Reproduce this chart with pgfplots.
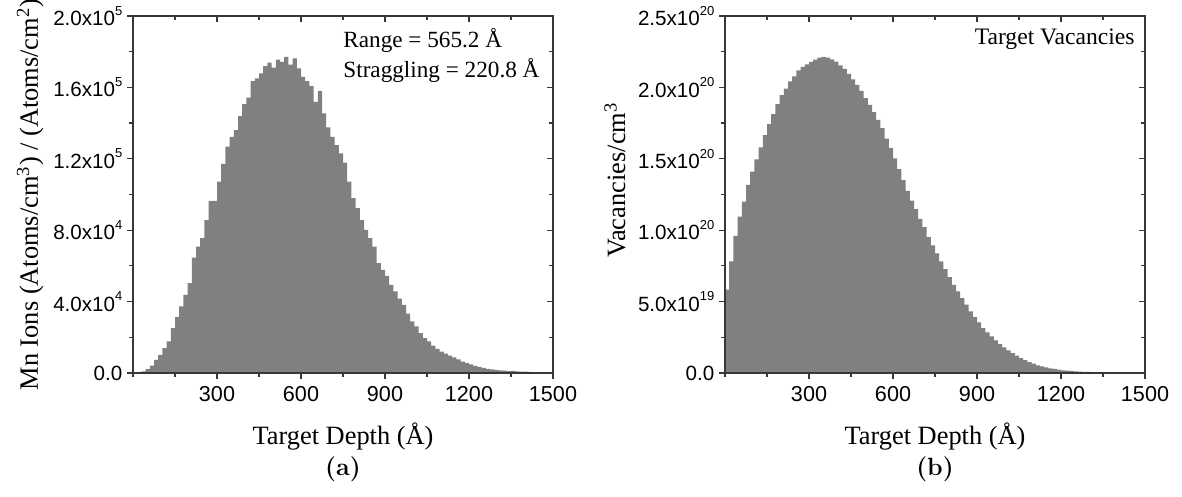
\documentclass[border=0pt]{standalone}
\usepackage{fontspec}
\usepackage{pgfplots}
\pgfplotsset{compat=1.18}
\newfontfamily\tnr{Liberation Serif}
\newfontfamily\arial{Liberation Sans}
\definecolor{barfill}{RGB}{128,128,128}
\definecolor{axiscol}{RGB}{55,55,55}
\newcommand\sci[2]{#1x10\raisebox{0.95ex}{\fontsize{6.5}{6.5}\selectfont #2}}

\pgfplotstableread{
x y
0 200
15 400
30 900
45 2200
60 4100
75 7400
90 10200
105 14000
120 17700
135 25200
150 31300
165 37300
180 43800
195 50300
210 64700
225 70800
240 75500
255 85700
270 96400
285 96400
300 107200
315 117100
330 126800
345 132300
360 136100
375 143900
390 150600
405 154300
420 163500
435 165000
450 167800
465 171900
480 173900
495 171100
510 175600
525 174300
540 177100
555 172800
570 176200
585 170600
600 165900
615 163500
630 160700
645 151900
660 158100
675 145400
690 137600
705 132300
720 127700
735 123000
750 117800
765 107200
780 97900
795 92300
810 85700
825 80200
840 75500
855 70800
870 61500
885 57800
900 54400
915 49400
930 45700
945 41600
960 38200
975 33200
990 28900
1005 26100
1020 22400
1035 19600
1050 17700
1065 15300
1080 13500
1095 12000
1110 10800
1125 9700
1140 8700
1155 7600
1170 6400
1185 5500
1200 4800
1215 4000
1230 3400
1245 2800
1260 2300
1275 2000
1290 1700
1305 1500
1320 1300
1335 1100
1350 1200
1365 900
1380 800
1395 700
1410 600
1425 500
1440 450
1455 350
1470 300
1485 250
1500 250
}\ionsdata

\pgfplotstableread{
x y
0 5.83e19
15 7.81e19
30 9.60e19
45 1.095e20
60 1.200e20
75 1.317e20
90 1.410e20
105 1.496e20
120 1.580e20
135 1.666e20
150 1.743e20
165 1.813e20
180 1.883e20
195 1.946e20
210 1.992e20
225 2.043e20
240 2.078e20
255 2.120e20
270 2.144e20
285 2.162e20
300 2.179e20
315 2.195e20
330 2.209e20
345 2.214e20
360 2.209e20
375 2.197e20
390 2.180e20
405 2.155e20
420 2.130e20
435 2.095e20
450 2.056e20
465 2.018e20
480 1.975e20
495 1.925e20
510 1.877e20
525 1.826e20
540 1.772e20
555 1.714e20
570 1.642e20
585 1.576e20
600 1.503e20
615 1.427e20
630 1.350e20
645 1.276e20
660 1.207e20
675 1.148e20
690 1.079e20
705 1.021e20
720 9.52e19
735 8.94e19
750 8.37e19
765 7.81e19
780 7.27e19
795 6.71e19
810 6.17e19
825 5.71e19
840 5.24e19
855 4.78e19
870 4.31e19
885 3.91e19
900 3.54e19
915 3.15e19
930 2.84e19
945 2.56e19
960 2.28e19
975 2.03e19
990 1.79e19
1005 1.58e19
1020 1.40e19
1035 1.21e19
1050 1.05e19
1065 9.1e18
1080 7.7e18
1095 6.5e18
1110 5.4e18
1125 4.7e18
1140 4.0e18
1155 3.3e18
1170 2.8e18
1185 2.3e18
1200 1.9e18
1215 1.6e18
1230 1.4e18
1245 1.2e18
1260 9e17
1275 8e17
1290 7e17
1305 6e17
1320 5e17
1335 4e17
1350 3.5e17
1365 3e17
1380 2.5e17
1395 2e17
1410 1.7e17
1425 1.4e17
1440 1.2e17
1455 1e17
1470 8e16
1485 6e16
1500 6e16
}\vacdata

\tikzset{annot/.style={inner sep=0pt, font=\tnr\fontsize{11.6}{12}\selectfont}}

\pgfplotsset{
  frame/.style={
    scale only axis, width=210pt, height=178.5pt,
    anchor=south west,
    xmin=0, xmax=1500,
    scaled x ticks=false, scaled y ticks=false,
    axis line style={axiscol, line width=0.8pt},
    major tick length=3pt, minor tick length=1.8pt,
    every tick/.style={axiscol, line width=0.6pt},
    xtick={300,600,900,1200,1500},
    minor xtick={0,150,...,1500},
  },
  ticksout/.style={
    tick align=outside, xtick pos=left, ytick pos=left,
    axis on top,
    xticklabels={300,600,900,1200,1500},
    xticklabel style={font=\arial\fontsize{10.8}{11}\selectfont, text=black},
    yticklabel style={font=\arial\fontsize{10.3}{11}\selectfont, text=black, xshift=1.2pt},
    xlabel style={font=\tnr\fontsize{13.2}{14}\selectfont, at={(axis description cs:0.5,-0.20)}, anchor=base},
    ylabel style={font=\tnr\fontsize{13.2}{14}\selectfont, anchor=center},
    xlabel={Target Depth (Å)},
  },
  ticksin/.style={
    tick align=inside, xtick pos=right, ytick pos=right,
    xticklabels={}, yticklabels={},
  },
}

\begin{document}
\begin{tikzpicture}
\useasboundingbox (0pt,0pt) rectangle (591pt,248.5pt);

% ---------- (a) ----------
\begin{axis}[frame, ticksout, at={(66.5pt,62pt)},
  ymin=0, ymax=200000,
  ytick={0,40000,80000,120000,160000,200000},
  minor ytick={20000,60000,100000,140000,180000},
  yticklabels={0.0, \sci{4.0}{4}, \sci{8.0}{4}, \sci{1.2}{5}, \sci{1.6}{5}, \sci{2.0}{5}},
  ylabel={Mn Ions (Atoms/cm\textsuperscript{3}) / (Atoms/cm\textsuperscript{2})},
  ylabel style={at={(axis description cs:-0.245,0.5)}},
]
\addplot[const plot, fill=barfill, draw=none] table[x=x,y=y] {\ionsdata} \closedcycle;
\node[annot, anchor=base west] at (axis description cs:0.5,0.911) {Range = 565.2 Å};
\node[annot, anchor=base west] at (axis description cs:0.5,0.829) {Straggling = 220.8 Å};
\end{axis}
\begin{axis}[frame, ticksin, at={(66.5pt,62pt)},
  ymin=0, ymax=200000,
  ytick={0,40000,80000,120000,160000,200000},
  minor ytick={20000,60000,100000,140000,180000},
]
\end{axis}

% ---------- (b) ----------
\begin{axis}[frame, ticksout, at={(362.5pt,62pt)},
  ymin=0, ymax=2.5e20,
  ytick={0,5e19,1e20,1.5e20,2e20,2.5e20},
  minor ytick={2.5e19,7.5e19,1.25e20,1.75e20,2.25e20},
  yticklabels={0.0, \sci{5.0}{19}, \sci{1.0}{20}, \sci{1.5}{20}, \sci{2.0}{20}, \sci{2.5}{20}},
  ylabel={Vacancies/cm\textsuperscript{3}},
  ylabel style={at={(axis description cs:-0.262,0.54)}},
]
\addplot[const plot, fill=barfill, draw=none] table[x=x,y=y] {\vacdata} \closedcycle;
\node[annot, anchor=base east, font=\tnr\fontsize{11.8}{12}\selectfont] at (axis description cs:0.976,0.919) {Target Vacancies};
\end{axis}
\begin{axis}[frame, ticksin, at={(362.5pt,62pt)},
  ymin=0, ymax=2.5e20,
  ytick={0,5e19,1e20,1.5e20,2e20,2.5e20},
  minor ytick={2.5e19,7.5e19,1.25e20,1.75e20,2.25e20},
]
\end{axis}

\node[font=\bfseries\fontsize{12.5}{13}\selectfont] at (171.5pt,14pt) {(a)};
\node[font=\bfseries\fontsize{12.5}{13}\selectfont] at (467.5pt,14pt) {(b)};
\end{tikzpicture}
\end{document}
